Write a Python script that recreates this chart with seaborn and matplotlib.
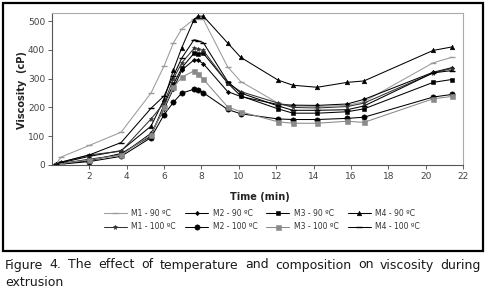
import matplotlib
matplotlib.use("Agg")
import matplotlib.pyplot as plt
import seaborn as sns
import pandas as pd
from matplotlib.patches import Rectangle

sns.set_style("white")
plt.rcParams['font.family'] = ['DejaVu Sans']

# time points (min)
time = [0.2, 0.5, 2.0, 3.7, 5.3, 6.0, 6.5, 6.95, 7.6, 7.8, 8.1, 9.4, 10.1, 12.1, 12.9, 14.2, 15.8, 16.7, 20.4, 21.4]

m1_90  = [3, 28, 68, 114, 250, 344, 424, 473, 506, 508, 506, 341, 290, 215, 205, 203, 207, 220, 355, 374]
m2_90  = [1, 5, 20, 35, 110, 195, 265, 330, 365, 365, 352, 255, 238, 210, 208, 207, 212, 228, 322, 338]
m3_90  = [0, 5, 15, 40, 100, 210, 280, 338, 388, 384, 388, 285, 240, 195, 180, 180, 185, 195, 287, 297]
m4_90  = [2, 8, 30, 50, 135, 228, 330, 408, 505, 517, 517, 424, 374, 295, 277, 270, 287, 292, 398, 410]
m1_100 = [3, 10, 35, 48, 160, 215, 300, 355, 405, 402, 398, 285, 255, 215, 200, 198, 203, 215, 320, 335]
m2_100 = [0, 3, 12, 30, 95, 175, 218, 250, 263, 262, 251, 193, 178, 160, 158, 158, 162, 166, 236, 245]
m3_100 = [0, 5, 18, 35, 105, 200, 270, 305, 327, 316, 298, 202, 185, 150, 145, 145, 152, 148, 230, 238]
m4_100 = [2, 10, 35, 78, 197, 240, 310, 372, 435, 432, 425, 290, 250, 205, 190, 190, 192, 205, 320, 328]

labels = ["M1 - 90 \u00baC", "M2 - 90 \u00baC", "M3 - 90 \u00baC", "M4 - 90 \u00baC",
          "M1 - 100 \u00baC", "M2 - 100 \u00baC", "M3 - 100 \u00baC", "M4 - 100 \u00baC"]
series = [m1_90, m2_90, m3_90, m4_90, m1_100, m2_100, m3_100, m4_100]

styles = [
    dict(color="#9a9a9a", marker="_", markersize=5, mew=1.0),
    dict(color="black", marker="D", markersize=2.2, mew=0.4),
    dict(color="black", marker="s", markersize=3.0, mew=0.4),
    dict(color="black", marker="^", markersize=3.3, mew=0.4),
    dict(color="#333333", marker="*", markersize=3.6, mew=0.4),
    dict(color="black", marker="o", markersize=3.8, mew=0.4),
    dict(color="#8a8a8a", marker="s", markersize=3.6, mew=0.4),
    dict(color="black", marker="_", markersize=4.5, mew=1.0),
]

rows = []
for lab, vals in zip(labels, series):
    for t, v in zip(time, vals):
        rows.append({"Time": t, "Viscosity": v, "Series": lab})
df = pd.DataFrame(rows)

W, H = 486, 291
fig = plt.figure(figsize=(W / 100, H / 100), dpi=100)
ax = fig.add_axes([52 / W, 1 - 165 / H, (463 - 52) / W, (165 - 13) / H])

handles = {}
for lab, st in zip(labels, styles):
    sub = df[df["Series"] == lab]
    sns.lineplot(data=sub, x="Time", y="Viscosity", ax=ax, color=st["color"],
                 marker=st["marker"], markersize=st["markersize"],
                 markeredgewidth=st["mew"], markeredgecolor=st["color"],
                 linewidth=0.75, legend=False, sort=False)
    handles[lab] = ax.lines[-1]

ax.set_xlim(0, 22)
ax.set_ylim(0, 528)
ax.set_xticks([2, 4, 6, 8, 10, 12, 14, 16, 18, 20, 22])
ax.set_yticks([0, 100, 200, 300, 400, 500])
ax.tick_params(axis="both", labelsize=6.5, colors="#444444", length=3, width=0.6,
               direction="out", bottom=True, left=True, pad=2)
for s in ["left", "bottom"]:
    ax.spines[s].set_color("#555555")
    ax.spines[s].set_linewidth(0.8)
for s in ["top", "right"]:
    ax.spines[s].set_color("#aaaaaa")
    ax.spines[s].set_linewidth(0.8)
ax.set_xlabel("")
ax.set_ylabel("")
fig.text(260 / W, 1 - 197 / H, "Time (min)", ha="center", va="center",
         fontsize=7, fontweight="bold", color="#222222")
fig.text(22 / W, 1 - 90 / H, "Viscosity  (cP)", ha="center", va="center",
         rotation=90, fontsize=7, fontweight="bold", color="#222222")

order = [labels[0], labels[4], labels[1], labels[5], labels[2], labels[6], labels[3], labels[7]]
fig.legend([handles[l] for l in order], order, ncol=4, loc="center",
           bbox_to_anchor=(262 / W, 1 - 220 / H), frameon=False, fontsize=5.5,
           handlelength=3.0, columnspacing=1.2, labelspacing=0.6, handletextpad=0.6,
           labelcolor="#333333")

# outer frame
fig.patches.append(Rectangle((3 / W, 1 - 251 / H), (483 - 3) / W, (251 - 3) / H,
                             transform=fig.transFigure, fill=False,
                             edgecolor="black", linewidth=1.6))

# caption (first line justified to width)
cap1 = "Figure 4. The effect of temperature and composition on viscosity during"
words = cap1.split(" ")
fs = 9.0
renderer = fig.canvas.get_renderer()
x0, x1 = 5 / W, 481 / W
tmp = [fig.text(0, 0, w, fontsize=fs) for w in words]
widths = [t.get_window_extent(renderer).width / W for t in tmp]
for t in tmp:
    t.remove()
gap = (x1 - x0 - sum(widths)) / (len(words) - 1)
x = x0
for w, wd in zip(words, widths):
    fig.text(x, 1 - 265 / H, w, fontsize=fs, va="center", ha="left", color="#1a1a1a")
    x += wd + gap
fig.text(x0, 1 - 282 / H, "extrusion", fontsize=fs, va="center", ha="left", color="#1a1a1a")

fig.savefig("out.png", dpi=100)
